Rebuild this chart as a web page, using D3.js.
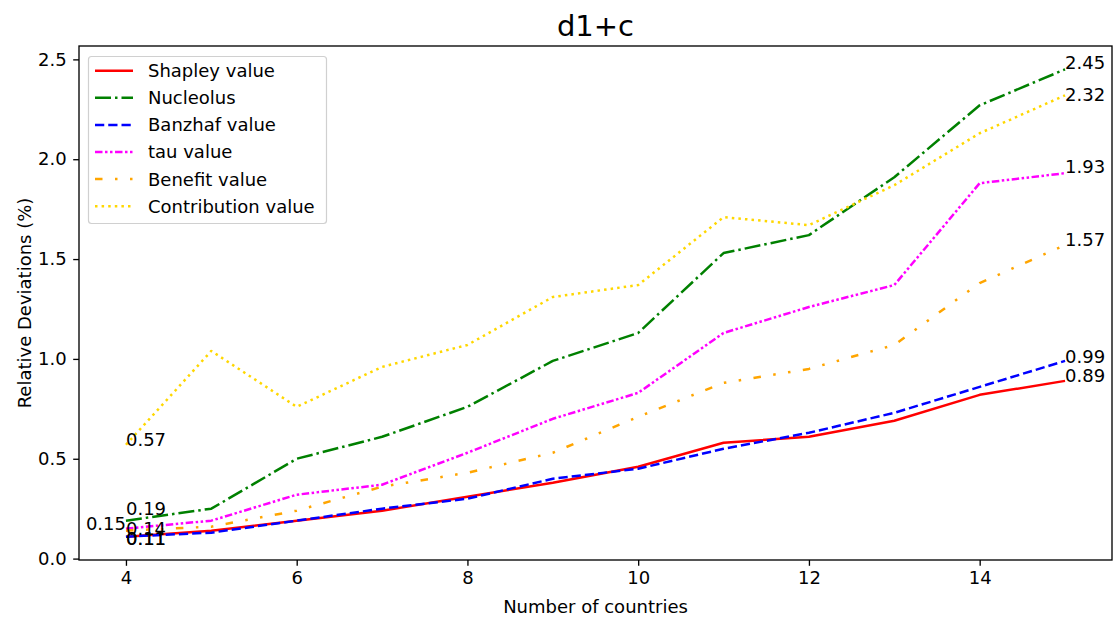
<!DOCTYPE html>
<html>
<head>
<meta charset="utf-8">
<script src="https://cdn.jsdelivr.net/npm/d3@7"></script>
<style>
  body { margin: 0; background: #fff; }
  svg { display: block; font-family: "DejaVu Sans", sans-serif; }
</style>
</head>
<body>
<svg id="chart" width="1120" height="618"></svg>
<script>
// ---- data ----
const countries = [4, 5, 6, 7, 8, 9, 10, 11, 12, 13, 14, 15];
const shapley      = [0.11, 0.14, 0.19, 0.24, 0.31, 0.38, 0.46, 0.58, 0.61, 0.69, 0.82, 0.89];
const nucleolus    = [0.19, 0.25, 0.50, 0.61, 0.76, 0.99, 1.13, 1.53, 1.62, 1.91, 2.27, 2.45];
const banzhaf      = [0.11, 0.13, 0.19, 0.25, 0.30, 0.40, 0.45, 0.55, 0.63, 0.73, 0.86, 0.99];
const tau          = [0.15, 0.19, 0.32, 0.37, 0.53, 0.70, 0.83, 1.13, 1.26, 1.37, 1.88, 1.93];
const benefit      = [0.14, 0.16, 0.24, 0.36, 0.43, 0.53, 0.71, 0.88, 0.95, 1.07, 1.38, 1.57];
const contribution = [0.57, 1.04, 0.76, 0.96, 1.07, 1.31, 1.37, 1.71, 1.67, 1.87, 2.13, 2.32];
const seriesNames = ["Shapley value", "Nucleolus", "Banzhaf value", "tau value", "Benefit value", "Contribution value"];
const xTicks = [4, 6, 8, 10, 12, 14];
const yTicks = [0.0, 0.5, 1.0, 1.5, 2.0, 2.5];
const title = "d1+c";
const xLabel = "Number of countries";
const yLabel = "Relative Deviations (%)";

// ---- styles (kept separate from data) ----
const LW = 2.5;
const styles = [
  { color: "#ff0000", dash: null },
  { color: "#008000", dash: "16,4,2.5,4" },
  { color: "#0000ff", dash: "9.25,4" },
  { color: "#ff00ff", dash: "7.5,2.5,2.5,2.5,2.5,2.5" },
  { color: "#ffa500", dash: "7.5,12.5,2.5,12.5,2.5,12.5" },
  { color: "#ffd700", dash: "2.5,4.1" }
];
const allSeries = [shapley, nucleolus, banzhaf, tau, benefit, contribution];
const FS = 18;

const svg = d3.select("#chart");
const mLeft = 79, mRight = 1112, mTop = 46, mBottom = 560;

const x = d3.scaleLinear().domain([3.45, 15.55]).range([mLeft, mRight]);
const y = d3.scaleLinear().domain([-0.007, 2.567]).range([mBottom, mTop]);

// lines
const line = d3.line().x((d, i) => x(countries[i])).y(d => y(d));
const linesG = svg.append("g");
allSeries.forEach((s, k) => {
  linesG.append("path")
    .datum(s)
    .attr("d", line)
    .attr("fill", "none")
    .attr("stroke", styles[k].color)
    .attr("stroke-width", LW)
    .attr("stroke-dasharray", styles[k].dash)
    .attr("stroke-linejoin", "round");
});

// annotations (first and last values)
const fmt = d3.format(".2f");
const annG = svg.append("g").attr("font-size", FS).attr("fill", "#000");
const startOffsets = [[0, 8, "start"], [0, -6, "start"], [0, 8, "start"], [0, 1, "end"], [0, 4, "start"], [0, 1, "start"]];
const endOffsets = [[0, 1, "start"], [0, 0, "start"], [0, 2, "start"], [0, 0, "start"], [0, 1, "start"], [0, 6, "start"]];
allSeries.forEach((s, k) => {
  const n = s.length - 1;
  annG.append("text")
    .attr("x", x(countries[0]) + startOffsets[k][0])
    .attr("y", y(s[0]) + startOffsets[k][1])
    .attr("text-anchor", startOffsets[k][2])
    .text(fmt(s[0]));
  annG.append("text")
    .attr("x", x(countries[n]) + endOffsets[k][0])
    .attr("y", y(s[n]) + endOffsets[k][1])
    .attr("text-anchor", endOffsets[k][2])
    .text(fmt(s[n]));
});

// frame
svg.append("rect")
  .attr("x", mLeft).attr("y", mTop)
  .attr("width", mRight - mLeft).attr("height", mBottom - mTop)
  .attr("fill", "none").attr("stroke", "#000").attr("stroke-width", 1.33);

// axes
const xAxis = d3.axisBottom(x).tickValues(xTicks).tickFormat(d3.format("d")).tickSizeOuter(0).tickSize(5.8).tickPadding(5);
const gx = svg.append("g").attr("transform", `translate(0,${mBottom})`).call(xAxis);
gx.select(".domain").remove();
gx.selectAll("text").attr("font-size", FS).attr("font-family", "DejaVu Sans").attr("fill", "#000");
gx.selectAll("line").attr("stroke", "#000").attr("stroke-width", 1.33);

const yAxis = d3.axisLeft(y).tickValues(yTicks).tickFormat(d3.format(".1f")).tickSizeOuter(0).tickSize(5.8).tickPadding(6.5);
const gy = svg.append("g").attr("transform", `translate(${mLeft},0)`).call(yAxis);
gy.select(".domain").remove();
gy.selectAll("text").attr("font-size", FS).attr("font-family", "DejaVu Sans").attr("fill", "#000");
gy.selectAll("line").attr("stroke", "#000").attr("stroke-width", 1.33);

// title and labels
svg.append("text").attr("x", (mLeft + mRight) / 2).attr("y", 36)
  .attr("text-anchor", "middle").attr("font-size", 29).text(title);
svg.append("text").attr("x", (mLeft + mRight) / 2).attr("y", 613)
  .attr("text-anchor", "middle").attr("font-size", FS).text(xLabel);
svg.append("text").attr("transform", `translate(31,${(mTop + mBottom) / 2}) rotate(-90)`)
  .attr("text-anchor", "middle").attr("font-size", FS).text(yLabel);

// legend
const lg = svg.append("g");
lg.append("rect").attr("x", 88.5).attr("y", 56.5).attr("width", 238).attr("height", 167)
  .attr("rx", 3).attr("fill", "#fff").attr("fill-opacity", 0.8)
  .attr("stroke", "#d0d0d0").attr("stroke-width", 1.2);
seriesNames.forEach((name, k) => {
  const cy = 70.7 + k * 27.1;
  lg.append("line").attr("x1", 95).attr("x2", 133).attr("y1", cy).attr("y2", cy)
    .attr("stroke", styles[k].color).attr("stroke-width", LW)
    .attr("stroke-dasharray", styles[k].dash);
  lg.append("text").attr("x", 148).attr("y", cy + 6.4).attr("font-size", FS).text(name);
});
</script>
</body>
</html>
